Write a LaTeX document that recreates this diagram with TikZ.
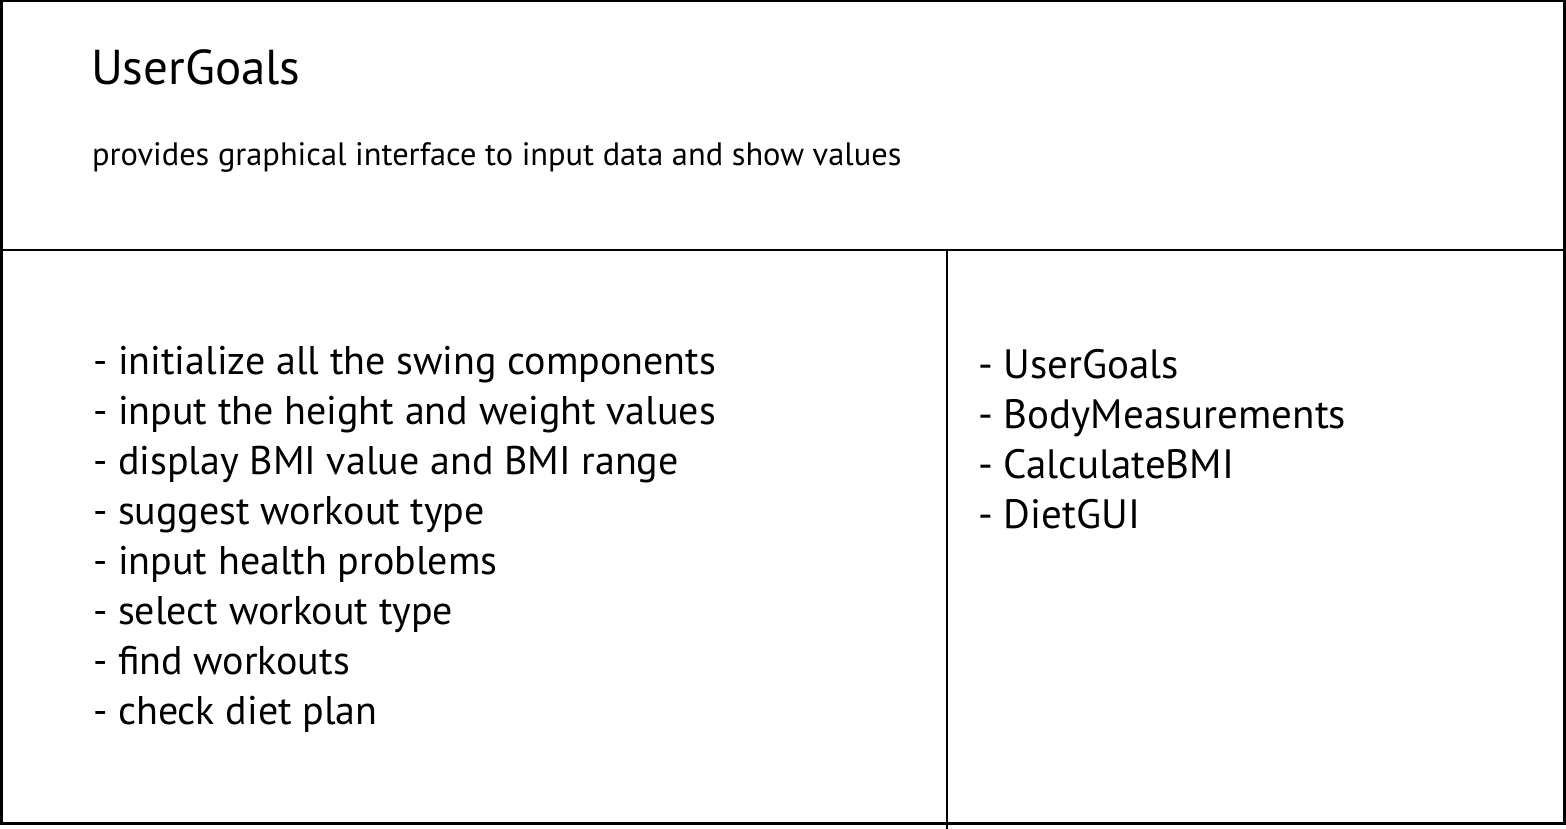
\documentclass[tikz,border=0pt]{standalone}
\usepackage{fontspec}
\setmainfont{PT Sans}
\begin{document}
\begin{tikzpicture}[x=1pt,y=-1pt,
  frame/.style={line width=2.5pt},
  divider/.style={line width=1.2pt},
  cardtext/.style={anchor=base west,inner sep=0pt,outer sep=0pt},
  title/.style={cardtext,font=\fontsize{49}{52}\selectfont},
  subtitle/.style={cardtext,font=\fontsize{32.4}{36}\selectfont},
  entry/.style={cardtext,font=\fontsize{40}{50}\selectfont},
  collab/.style={cardtext,font=\fontsize{41}{50}\selectfont}]
\useasboundingbox (0,0) rectangle (1566,829);
% card outline and section dividers
\draw[frame] (1.25,1.25) rectangle (1564.5,823.5);
\coordinate (hl) at (1,250);
\coordinate (hr) at (1564,250);
\coordinate (vt) at (947,250);
\coordinate (vb) at (947,829);
\draw[divider] (hl) -- (hr);
\draw[divider] (vt) -- (vb);
% class name and description
\node[title] (name) at (91,85) {UserGoals};
\node[subtitle] (desc) at (92,166) {provides graphical interface to input data and show values};
% responsibilities
\foreach \t [count=\i] in {initialize all the swing components,
  input the height and weight values,
  display BMI value and BMI range,
  suggest workout type,
  input health problems,
  select workout type,
  find workouts,
  check diet plan}
  \node[entry] (resp\i) at (93,{374+50*(\i-1)}) {- \t};
% collaborators
\foreach \t [count=\i] in {UserGoals,BodyMeasurements,CalculateBMI,DietGUI}
  \node[collab] (collab\i) at (978,{378+50*(\i-1)}) {- \t};
\end{tikzpicture}
\end{document}
